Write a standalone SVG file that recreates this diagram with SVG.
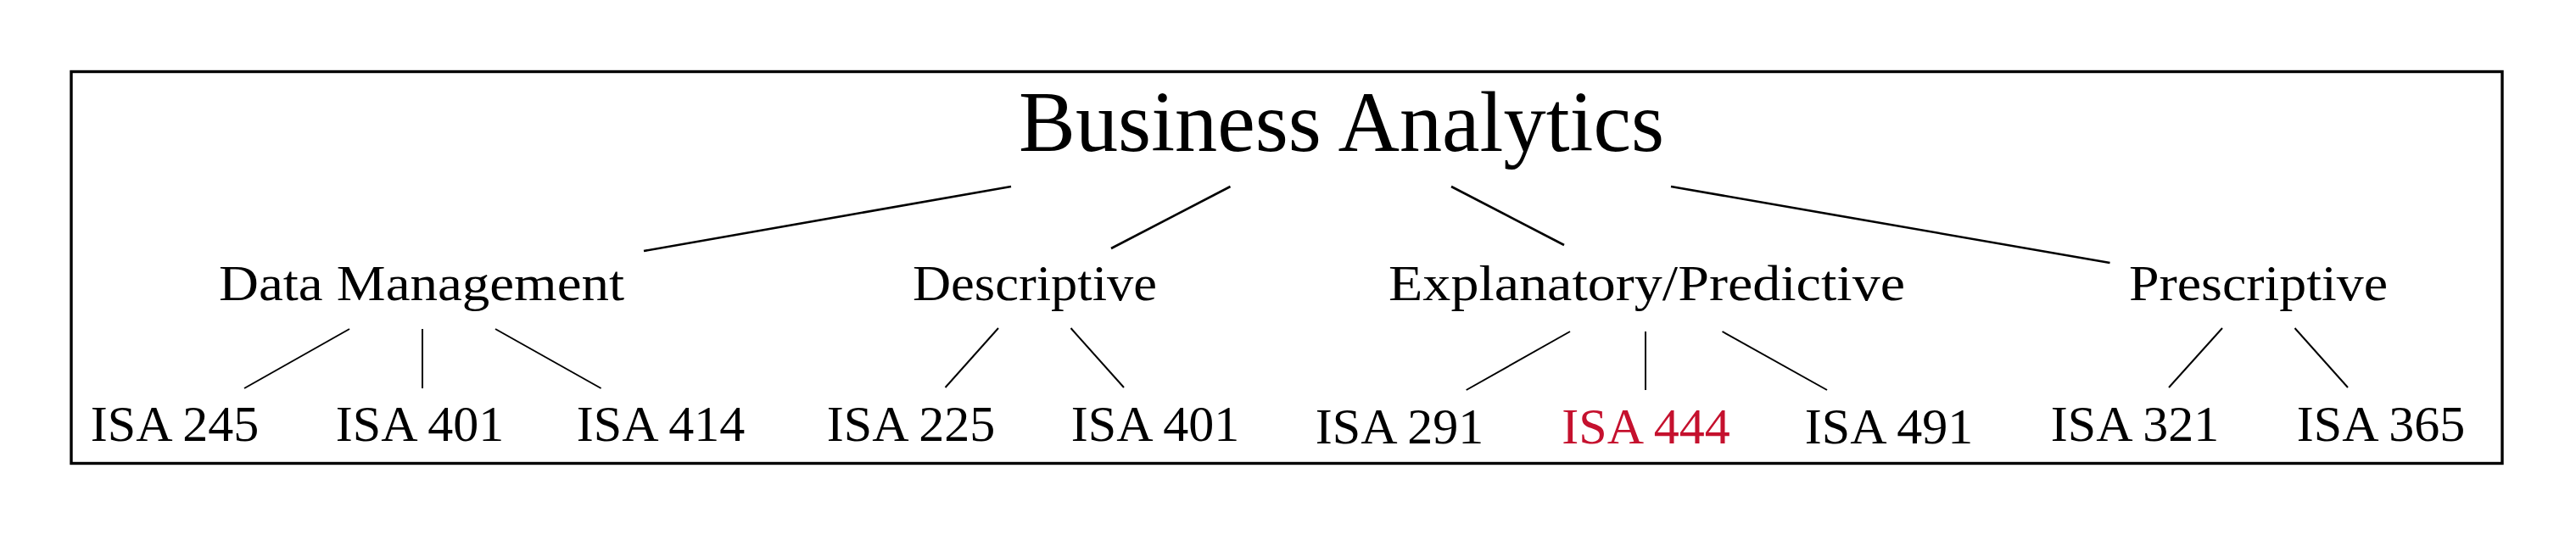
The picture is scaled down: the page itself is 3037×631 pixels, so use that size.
<svg xmlns="http://www.w3.org/2000/svg" width="3037" height="631" viewBox="0 0 3037 631">
<style>
text { font-family: "Liberation Serif", "Times New Roman", serif; fill: #000; text-anchor: middle; }
.title { font-size: 101px; }
.mid { font-size: 60px; }
.leaf { font-size: 60px; }
.red { fill: #C5112E; }
.frame { fill: none; stroke: #000; stroke-width: 3.4; }
.e1 { stroke: #000; stroke-width: 2.6; fill: none; }
.e2 { stroke: #000; stroke-width: 2; fill: none; }
</style>
<rect class="frame" x="84" y="84.5" width="2866" height="462"/>
<g id="connectors">
  <line class="e1" x1="1192" y1="220" x2="759" y2="296"/>
  <line class="e1" x1="1450.5" y1="220" x2="1310" y2="293"/>
  <line class="e1" x1="1711" y1="220" x2="1844" y2="289"/>
  <line class="e1" x1="1970" y1="220" x2="2487.5" y2="310"/>
  <line class="e2" x1="412" y1="388" x2="288" y2="458"/>
  <line class="e2" x1="498" y1="388" x2="498" y2="458"/>
  <line class="e2" x1="584" y1="388" x2="708.6" y2="458"/>
  <line class="e2" x1="1177" y1="387" x2="1114.5" y2="457"/>
  <line class="e2" x1="1262.5" y1="387" x2="1325" y2="457"/>
  <line class="e2" x1="1851" y1="391" x2="1728.7" y2="460"/>
  <line class="e2" x1="1940" y1="391" x2="1940" y2="460"/>
  <line class="e2" x1="2030.5" y1="391" x2="2154" y2="460"/>
  <line class="e2" x1="2620" y1="387" x2="2557" y2="457"/>
  <line class="e2" x1="2705.5" y1="387" x2="2768" y2="457"/>
</g>
<g id="root"><text class="title" x="1581.5" y="178" textLength="761" lengthAdjust="spacingAndGlyphs">Business Analytics</text></g>
<g id="data-management"><text class="mid" x="497" y="354" textLength="478" lengthAdjust="spacingAndGlyphs">Data Management</text></g>
<g id="descriptive"><text class="mid" x="1220" y="354" textLength="288" lengthAdjust="spacingAndGlyphs">Descriptive</text></g>
<g id="explanatory-predictive"><text class="mid" x="1941.5" y="354" textLength="609" lengthAdjust="spacingAndGlyphs">Explanatory/Predictive</text></g>
<g id="prescriptive"><text class="mid" x="2662.5" y="354" textLength="305" lengthAdjust="spacingAndGlyphs">Prescriptive</text></g>
<g id="isa245"><text class="leaf" x="206" y="520">ISA 245</text></g>
<g id="isa401a"><text class="leaf" x="495" y="520">ISA 401</text></g>
<g id="isa414"><text class="leaf" x="779" y="520">ISA 414</text></g>
<g id="isa225"><text class="leaf" x="1074" y="520">ISA 225</text></g>
<g id="isa401b"><text class="leaf" x="1362" y="520">ISA 401</text></g>
<g id="isa291"><text class="leaf" x="1650" y="523">ISA 291</text></g>
<g id="isa444"><text class="leaf red" x="1940.5" y="523">ISA 444</text></g>
<g id="isa491"><text class="leaf" x="2227" y="523">ISA 491</text></g>
<g id="isa321"><text class="leaf" x="2517" y="520">ISA 321</text></g>
<g id="isa365"><text class="leaf" x="2807" y="520">ISA 365</text></g>
</svg>
